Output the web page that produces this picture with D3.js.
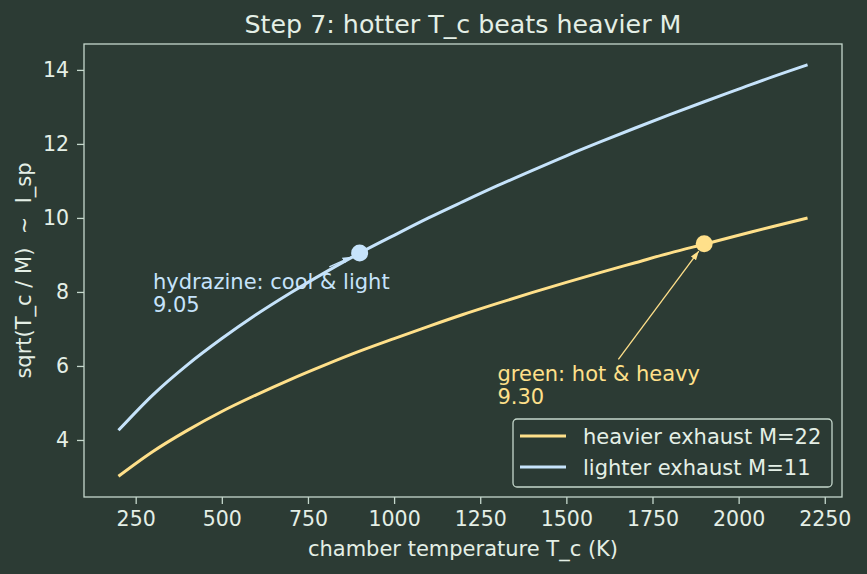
<!DOCTYPE html>
<html>
<head>
<meta charset="utf-8">
<script src="https://cdn.jsdelivr.net/npm/d3@7"></script>
<style>
  body { margin: 0; background: #2c3b34; }
  svg { display: block; font-family: "DejaVu Sans", sans-serif; }
</style>
</head>
<body>
<div id="chart"></div>
<script>
// temperatures (K) and values
const temps = [200, 300, 400, 500, 600, 700, 800, 900, 1000, 1100, 1200, 1300, 1400, 1500, 1600, 1700, 1800, 1900, 2000, 2100, 2200];
const heavyVals = [3.02, 3.69, 4.26, 4.77, 5.22, 5.64, 6.03, 6.40, 6.74, 7.07, 7.39, 7.69, 7.98, 8.26, 8.53, 8.79, 9.05, 9.29, 9.53, 9.77, 10.0];
const lightVals = [4.26, 5.22, 6.03, 6.74, 7.39, 7.98, 8.53, 9.05, 9.53, 10.0, 10.44, 10.87, 11.28, 11.68, 12.06, 12.43, 12.79, 13.14, 13.48, 13.82, 14.14];
const seriesNames = ["heavier exhaust M=22", "lighter exhaust M=11"];
const xTicks = [250, 500, 750, 1000, 1250, 1500, 1750, 2000, 2250];
const yTicks = [4, 6, 8, 10, 12, 14];
// annotated points
const hydrazine = { t: 900, v: 9.05, label: "hydrazine: cool & light", value: "9.05", tx: 300, ty: 8.0 };
const green = { t: 1900, v: 9.30, label: "green: hot & heavy", value: "9.30", tx: 1300, ty: 5.5 };

const W = 867, H = 574;
const bg = "#2c3b34", fg = "#e4efe6", spine = "#c5d8cc";
const yellow = "#ffe08a", blue = "#c6e3fb";
const margin = { left: 84, right: 25, top: 44, bottom: 77 };
const fs = 21;

const svg = d3.select("#chart").append("svg").attr("width", W).attr("height", H);
svg.append("rect").attr("width", W).attr("height", H).attr("fill", bg);

const x = d3.scaleLinear().domain([100, 2300]).range([margin.left, W - margin.right]);
const y = d3.scaleLinear().domain([2.459, 14.70]).range([H - margin.bottom, margin.top]);

const defs = svg.append("defs");
[["ahY", yellow], ["ahB", blue]].forEach(([id, c]) => {
  defs.append("marker").attr("id", id).attr("viewBox", "0 0 10 10")
    .attr("refX", 10).attr("refY", 5).attr("markerWidth", 9).attr("markerHeight", 9)
    .attr("markerUnits", "userSpaceOnUse").attr("orient", "auto")
    .append("path").attr("d", "M0,1.5 L10,5 L0,8.5 Z").attr("fill", c);
});

// axes
const xAxis = svg.append("g").attr("transform", `translate(0,${H - margin.bottom})`)
  .call(d3.axisBottom(x).tickValues(xTicks).tickSize(7).tickPadding(7).tickFormat(d3.format("d")));
const yAxis = svg.append("g").attr("transform", `translate(${margin.left},0)`)
  .call(d3.axisLeft(y).tickValues(yTicks).tickSize(7).tickPadding(8));
[xAxis, yAxis].forEach(g => {
  g.select(".domain").remove();
  g.selectAll("line").attr("stroke", spine).attr("stroke-width", 1.3);
  g.selectAll("text").attr("fill", fg).style("font-size", "20.5px").style("font-family", "DejaVu Sans");
});

svg.append("rect")
  .attr("x", margin.left).attr("y", margin.top)
  .attr("width", W - margin.left - margin.right).attr("height", H - margin.top - margin.bottom)
  .attr("fill", "none").attr("stroke", spine).attr("stroke-width", 1.3);

const line = d3.line().x(d => x(d[0])).y(d => y(d[1])).curve(d3.curveMonotoneX);
const heavy = temps.map((t, i) => [t, heavyVals[i]]);
const light = temps.map((t, i) => [t, lightVals[i]]);

svg.append("path").datum(heavy).attr("fill", "none").attr("stroke", yellow).attr("stroke-width", 3).attr("d", line);
svg.append("path").datum(light).attr("fill", "none").attr("stroke", blue).attr("stroke-width", 3).attr("d", line);

// annotations
function annotate(a, color, marker) {
  const tx = x(a.tx), ty = y(a.ty) - 3;
  const txt = svg.append("text").attr("x", tx).attr("y", ty).attr("fill", color)
    .style("font-size", fs + "px");
  txt.append("tspan").attr("x", tx).text(a.label);
  txt.append("tspan").attr("x", tx).attr("dy", 23).text(a.value);
  const bb = txt.node().getBBox();
  const cx = bb.x + bb.width / 2, cy = bb.y + bb.height / 2;
  const px = x(a.t), py = y(a.v);
  // start just above the text box, end short of the marker
  const top = bb.y - 3;
  const f = (cy - top) / (cy - py);
  const sx = cx + (px - cx) * f, sy = top;
  const dx = px - sx, dy = py - sy, len = Math.hypot(dx, dy);
  const ex = px - dx / len * 9, ey = py - dy / len * 9;
  svg.append("line").attr("x1", sx).attr("y1", sy).attr("x2", ex).attr("y2", ey)
    .attr("stroke", color).attr("stroke-width", 1.3).attr("marker-end", `url(#${marker})`);
  svg.append("circle").attr("cx", px).attr("cy", py).attr("r", 8.5).attr("fill", color);
}
annotate(hydrazine, blue, "ahB");
annotate(green, yellow, "ahY");

// title and labels
const cxAxes = (margin.left + W - margin.right) / 2;
svg.append("text").attr("x", cxAxes).attr("y", 33)
  .attr("text-anchor", "middle").attr("fill", fg).style("font-size", "25.3px")
  .text("Step 7: hotter T_c beats heavier M");
svg.append("text").attr("x", cxAxes).attr("y", 556)
  .attr("text-anchor", "middle").attr("fill", fg).style("font-size", fs + "px")
  .text("chamber temperature T_c (K)");
svg.append("text").attr("transform", `translate(31,${(margin.top + H - margin.bottom) / 2}) rotate(-90)`)
  .attr("text-anchor", "middle").attr("fill", fg).style("font-size", fs + "px")
  .style("white-space", "pre").attr("xml:space", "preserve")
  .text("sqrt(T_c / M)  ~  I_sp");

// legend
const lg = svg.append("g").attr("transform", "translate(513,419)");
lg.append("rect").attr("width", 319).attr("height", 68).attr("rx", 4)
  .attr("fill", bg).attr("fill-opacity", 0.8).attr("stroke", spine).attr("stroke-width", 1.3);
[[yellow, seriesNames[0]], [blue, seriesNames[1]]].forEach(([c, name], i) => {
  const yy = 17 + i * 31;
  lg.append("line").attr("x1", 7).attr("x2", 53).attr("y1", yy).attr("y2", yy)
    .attr("stroke", c).attr("stroke-width", 3);
  lg.append("text").attr("x", 70).attr("y", yy + 7.5).attr("fill", fg)
    .style("font-size", fs + "px").text(name);
});
</script>
</body>
</html>
